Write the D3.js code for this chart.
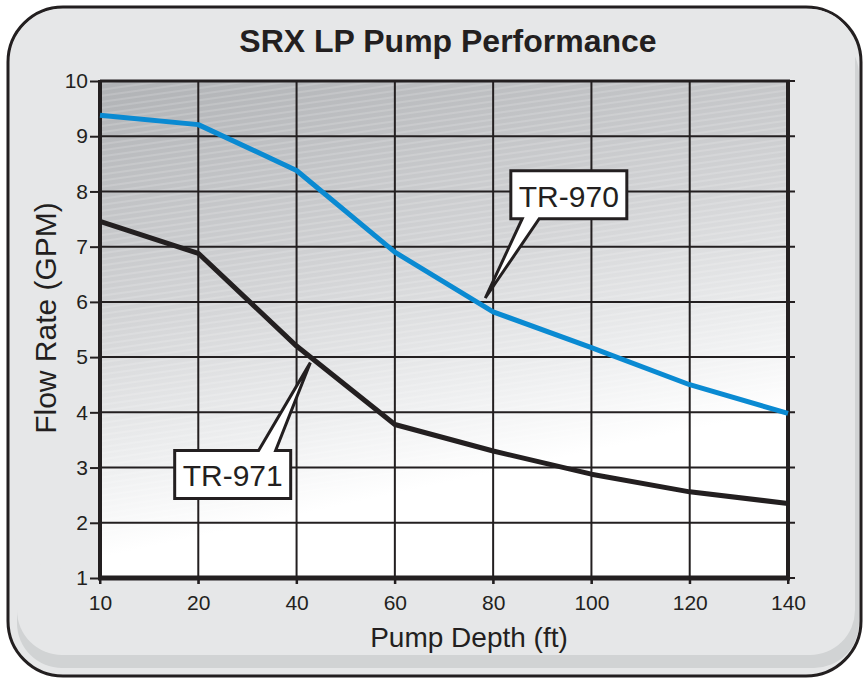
<!DOCTYPE html>
<html>
<head>
<meta charset="utf-8">
<script src="https://cdn.jsdelivr.net/npm/d3@7"></script>
<style>
body{margin:0;background:#fff;}
svg{display:block;}
svg text{font-family:Arial,"Liberation Sans",Helvetica,sans-serif;}
</style>
</head>
<body>
<div id="chart"></div>
<script>
var depths = ['10','20','40','60','80','100','120','140'];
var tr970 = [9.38,9.21,8.38,6.9,5.82,5.17,4.5,3.98];
var tr971 = [7.46,6.88,5.2,3.78,3.3,2.88,2.56,2.35];
var yTicks = [1,2,3,4,5,6,7,8,9,10];
// callouts: tip at (index,value), box centre at (index,value)
var callouts = [
    {label:'TR-970', tip:[3.92,6.07], box:[4.77,7.94]},
    {label:'TR-971', tip:[2.14,4.9], box:[1.35,2.875]}
];

var W = 864, H = 679;
var ink = '#231f20';
var font = 'Arial,"Liberation Sans",Helvetica,sans-serif';
var plot = {left:100, right:788, top:81, bottom:578};

var svg = d3.select('#chart').append('svg')
    .attr('width',W).attr('height',H);

var defs = svg.append('defs');
var grad = defs.append('linearGradient')
    .attr('id','bg').attr('x1','0').attr('y1','0').attr('x2','0.3').attr('y2','1');
grad.append('stop').attr('offset','0%').attr('stop-color','#b0b2b5');
grad.append('stop').attr('offset','45%').attr('stop-color','#d3d4d6');
grad.append('stop').attr('offset','72%').attr('stop-color','#eeeff0');
grad.append('stop').attr('offset','88%').attr('stop-color','#ffffff');

var pat = defs.append('pattern')
    .attr('id','hatch').attr('patternUnits','userSpaceOnUse')
    .attr('width',60).attr('height',6)
    .attr('patternTransform','rotate(-8)');
pat.append('line')
    .attr('x1',0).attr('y1',1).attr('x2',60).attr('y2',1)
    .attr('stroke','#ffffff').attr('stroke-opacity',0.3).attr('stroke-width',1);

// frame
svg.append('rect')
    .attr('x',8).attr('y',7).attr('width',853).attr('height',669)
    .attr('rx',55).attr('ry',55)
    .attr('fill','#e6e7e8').attr('stroke',ink).attr('stroke-width',3);
svg.append('rect')
    .attr('x',17).attr('y',30).attr('width',842).attr('height',638)
    .attr('rx',45).attr('ry',45)
    .attr('fill','#d1d3d4');
svg.append('rect')
    .attr('x',17).attr('y',9).attr('width',838).attr('height',646)
    .attr('rx',45).attr('ry',45)
    .attr('fill','#e6e7e8');
svg.append('rect')
    .attr('x',10).attr('y',9).attr('width',300).attr('height',560)
    .attr('rx',53).attr('ry',53)
    .attr('fill','#e6e7e8');

svg.append('text')
    .text('SRX LP Pump Performance')
    .attr('x',448).attr('y',52)
    .attr('text-anchor','middle')
    .attr('font-family',font)
    .attr('font-size','32px').attr('font-weight','bold')
    .attr('fill',ink);

var x = d3.scalePoint().domain(depths).range([plot.left,plot.right]);
var y = d3.scaleLinear().domain([1,10]).range([plot.bottom,plot.top]);
function xi(i){ return x.range()[0]+i*x.step(); }

// plot background
svg.append('rect')
    .attr('x',plot.left).attr('y',plot.top)
    .attr('width',plot.right-plot.left).attr('height',plot.bottom-plot.top)
    .attr('fill','url(#bg)');
svg.append('rect')
    .attr('x',plot.left).attr('y',plot.top)
    .attr('width',plot.right-plot.left).attr('height',plot.bottom-plot.top)
    .attr('fill','url(#hatch)');

// grid
svg.append('g').selectAll('line')
    .data(yTicks)
    .enter().append('line')
    .attr('x1',plot.left).attr('x2',plot.right+7)
    .attr('y1',function(d){return y(d);}).attr('y2',function(d){return y(d);})
    .attr('stroke',ink).attr('stroke-width',2);
svg.append('g').selectAll('line')
    .data(depths)
    .enter().append('line')
    .attr('x1',function(d){return x(d);}).attr('x2',function(d){return x(d);})
    .attr('y1',plot.top).attr('y2',plot.bottom+6)
    .attr('stroke',ink).attr('stroke-width',2);

// axes
var yAxis = svg.append('g')
    .attr('transform','translate('+plot.left+',0)')
    .call(d3.axisLeft(y).tickValues(yTicks).tickSize(10).tickPadding(2).tickFormat(d3.format('d')));
yAxis.attr('font-family',font).attr('font-size',21);
yAxis.select('.domain').remove();
yAxis.selectAll('line').attr('stroke',ink).attr('stroke-width',2);
yAxis.selectAll('text').attr('fill',ink);

var xAxis = svg.append('g')
    .attr('transform','translate(0,'+plot.bottom+')')
    .call(d3.axisBottom(x).tickSize(6).tickPadding(11));
xAxis.attr('font-family',font).attr('font-size',21);
xAxis.select('.domain').remove();
xAxis.selectAll('line').attr('stroke',ink).attr('stroke-width',2);
xAxis.selectAll('text').attr('fill',ink);

// frame lines of plot
svg.append('line').attr('x1',plot.left).attr('x2',plot.right+2)
    .attr('y1',plot.top).attr('y2',plot.top)
    .attr('stroke',ink).attr('stroke-width',3);
svg.append('line').attr('x1',plot.left).attr('x2',plot.left)
    .attr('y1',plot.top-1).attr('y2',plot.bottom+2)
    .attr('stroke',ink).attr('stroke-width',4);
svg.append('line').attr('x1',plot.right).attr('x2',plot.right)
    .attr('y1',plot.top-1).attr('y2',plot.bottom+2)
    .attr('stroke',ink).attr('stroke-width',4);
svg.append('line').attr('x1',plot.left-2).attr('x2',plot.right+2)
    .attr('y1',plot.bottom).attr('y2',plot.bottom)
    .attr('stroke',ink).attr('stroke-width',5);

// axis titles
svg.append('text')
    .text('Pump Depth (ft)')
    .attr('x',469).attr('y',647)
    .attr('text-anchor','middle')
    .attr('font-family',font)
    .attr('font-size','28px').attr('fill',ink);
svg.append('text')
    .text('Flow Rate (GPM)')
    .attr('transform','translate(56,318) rotate(-90)')
    .attr('text-anchor','middle')
    .attr('font-family',font)
    .attr('font-size','30px').attr('fill',ink);

// series
var line = d3.line()
    .x(function(d,i){return x(depths[i]);})
    .y(function(d){return y(d);});
svg.append('path').datum(tr971)
    .attr('d',line).attr('fill','none')
    .attr('stroke',ink).attr('stroke-width',5).attr('stroke-linejoin','round');
svg.append('path').datum(tr970)
    .attr('d',line).attr('fill','none')
    .attr('stroke','#0a8ad2').attr('stroke-width',5).attr('stroke-linejoin','round');

// callouts
var bw = 116, bh = 48;
callouts.forEach(function(c){
    var tx = xi(c.tip[0]), ty = y(c.tip[1]);
    var cx = xi(c.box[0]), cy = y(c.box[1]);
    var below = ty > cy;
    var edge = below ? cy+bh/2 : cy-bh/2;
    var far = below ? cy-bh/2 : cy+bh/2;
    var bx0 = cx - bw/2, bx1 = cx + bw/2;
    var p0 = cx + (tx-cx)*0.45 - 9, p1 = p0 + 17;
    var path = 'M'+bx0+','+far+'H'+bx1+'V'+edge+'H'+p1+'L'+tx+','+ty+'L'+p0+','+edge+'H'+bx0+'Z';
    svg.append('path')
        .attr('d',path)
        .attr('fill','#fff').attr('stroke',ink).attr('stroke-width',3)
        .attr('stroke-linejoin','miter');
    svg.append('text')
        .text(c.label)
        .attr('x',cx).attr('y',cy+12)
        .attr('text-anchor','middle')
        .attr('font-family',font)
        .attr('font-size','30px').attr('fill',ink);
});
</script>
</body>
</html>
